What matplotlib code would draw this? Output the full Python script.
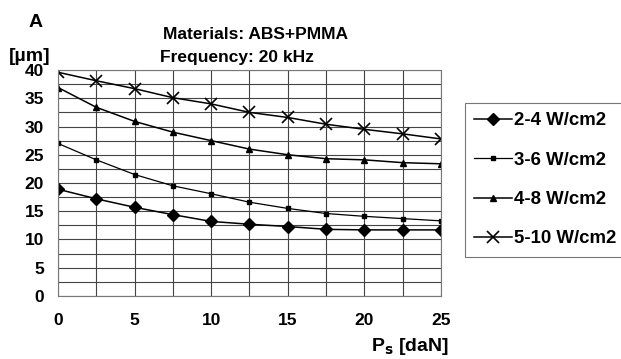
import numpy as np
from matplotlib import pyplot as plt
from matplotlib.ticker import MultipleLocator

plt.rcParams['font.family'] = ['Liberation Sans', 'DejaVu Sans']
plt.rcParams['font.weight'] = 'bold'

ps = [0, 2.5, 5, 7.5, 10, 12.5, 15, 17.5, 20, 22.5, 25]
s_2_4 = [18.9, 17.2, 15.7, 14.4, 13.2, 12.7, 12.3, 11.8, 11.7, 11.7, 11.7]
s_3_6 = [27.0, 24.1, 21.5, 19.5, 18.1, 16.6, 15.5, 14.6, 14.1, 13.7, 13.3]
s_4_8 = [36.9, 33.4, 30.9, 29.0, 27.5, 26.0, 25.0, 24.3, 24.1, 23.6, 23.4]
s_5_10 = [39.6, 38.1, 36.7, 35.1, 34.0, 32.5, 31.6, 30.4, 29.5, 28.7, 27.8]

fig = plt.figure(figsize=(6.21, 3.59), dpi=100)
ax = fig.add_axes([0.0934, 0.1755, 0.6166, 0.6295])

ax.plot(ps, s_2_4, 'k-', marker='D', ms=6, lw=1.1, label='2-4 W/cm2')
ax.plot(ps, s_3_6, 'k-', marker='s', ms=3.5, lw=0.9, label='3-6 W/cm2')
ax.plot(ps, s_4_8, 'k-', marker='^', ms=4.5, lw=1.1, label='4-8 W/cm2')
ax.plot(ps, s_5_10, 'k-', marker='x', ms=8, mew=1.2, lw=1.1, label='5-10 W/cm2')

ax.set_xlim(0, 25)
ax.set_ylim(0, 40)
ax.xaxis.set_major_locator(MultipleLocator(5))
ax.xaxis.set_minor_locator(MultipleLocator(2.5))
ax.yaxis.set_major_locator(MultipleLocator(5))
ax.yaxis.set_minor_locator(MultipleLocator(2.5))
ax.grid(which='both', color='#444444', lw=0.8)
ax.tick_params(which='both', length=0, labelsize=12.5)
ax.tick_params(axis='y', pad=10)
ax.tick_params(axis='x', pad=12)
for sp in ax.spines.values():
    sp.set_color('#777777')
    sp.set_linewidth(0.8)

fig.text(0.046, 0.925, 'A', fontsize=14, fontweight='bold')
fig.text(0.015, 0.83, '[µm]', fontsize=14, fontweight='bold')
fig.text(0.262, 0.89, 'Materials: ABS+PMMA', fontsize=12.5, fontweight='bold')
fig.text(0.258, 0.826, 'Frequency: 20 kHz', fontsize=12.5, fontweight='bold')
fig.text(0.598, 0.022, r'P$_\mathbf{s}$ [daN]', fontsize=14, fontweight='bold')

leg = fig.legend(loc='upper left', bbox_to_anchor=(0.749, 0.713), frameon=True,
                 fancybox=False, edgecolor='#555555', fontsize=13.4,
                 handlelength=2.0, labelspacing=1.2, borderpad=0.5,
                 handletextpad=0.1, borderaxespad=0)
leg.get_frame().set_linewidth(0.8)

plt.savefig('out.png', dpi=100)
